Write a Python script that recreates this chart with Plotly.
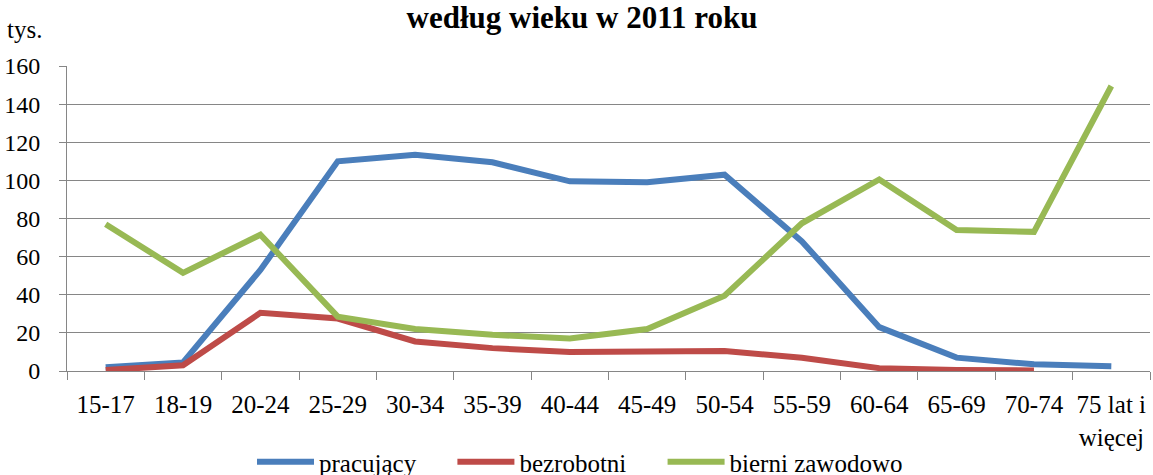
import plotly.graph_objects as go

categories = ["15-17", "18-19", "20-24", "25-29", "30-34", "35-39", "40-44",
              "45-49", "50-54", "55-59", "60-64", "65-69", "70-74", "75 lat i<br>więcej"]
pracujacy = [2, 4.5, 53, 110, 113.5, 109.5, 99.5, 99, 103, 68, 23, 7, 3.5, 2.5]
bezrobotni = [0.5, 3, 30.5, 27.5, 15.5, 12, 10, 10, 10.5, 7, 1.5, 0.5, 0.3, None]
bierni = [77, 51.5, 71.5, 28.5, 22, 19, 17, 22, 39.5, 77.5, 100.5, 74, 73, 149.5]
series_names = ["pracujący", "bezrobotni", "bierni zawodowo"]
y_ticks = [0, 20, 40, 60, 80, 100, 120, 140, 160]

font = "Liberation Serif"
W, H = 1153, 475
L, R, T, B = 67, 3, 66, 104
ph = H - T - B
pad = "\u00a0" * 5

fig = go.Figure()
for i, (name, vals, color) in enumerate(zip(series_names,
                                            [pracujacy, bezrobotni, bierni],
                                            ["#4a7ebb", "#be4b48", "#98b954"])):
    label = name + (pad if i < len(series_names) - 1 else "")
    fig.add_trace(go.Scatter(x=categories, y=vals, name=label, mode="lines",
                             line=dict(color=color, width=6), cliponaxis=False,
                             connectgaps=False))

fig.update_layout(
    width=W, height=H,
    margin=dict(l=L, r=R, t=T, b=B, autoexpand=False),
    paper_bgcolor="white", plot_bgcolor="white",
    font=dict(family=font, size=25, color="black"),
    title=dict(text="<b>według wieku w 2011 roku</b>", x=582 / W, xanchor="center",
               xref="container", yref="container",
               y=1 - 17 / H, yanchor="middle", font=dict(family=font, size=31)),
    showlegend=True,
    legend=dict(orientation="h", x=580 / W, xanchor="center", xref="container",
                yref="container", y=(H - 462) / H, yanchor="middle",
                font=dict(family=font, size=25), itemwidth=57,
                tracegroupgap=0, traceorder="normal"),
    annotations=[dict(text="tys.", xref="paper", yref="paper", x=(5 - L) / (W - L - R),
                      y=1 + 36 / ph, xanchor="left", yanchor="middle", showarrow=False,
                      font=dict(family=font, size=25))],
)
fig.update_xaxes(type="category", range=[-0.5, 13.5], tickson="boundaries",
                 ticks="outside", ticklen=8, ticklabelstandoff=11, tickangle=0,
                 tickcolor="#868686", showline=True, linecolor="#868686", linewidth=1,
                 showgrid=False, tickfont=dict(family=font, size=25))
fig.update_yaxes(range=[0, 160], tickvals=y_ticks, ticks="outside", ticklen=7,
                 ticklabelstandoff=14,
                 tickcolor="#868686", showline=True, linecolor="#868686", linewidth=1,
                 showgrid=True, gridcolor="#868686", gridwidth=1, zeroline=False,
                 tickfont=dict(family=font, size=24))

fig.write_html("out.html", config={"displayModeBar": False},
               post_script="document.body.style.margin='0px';")
